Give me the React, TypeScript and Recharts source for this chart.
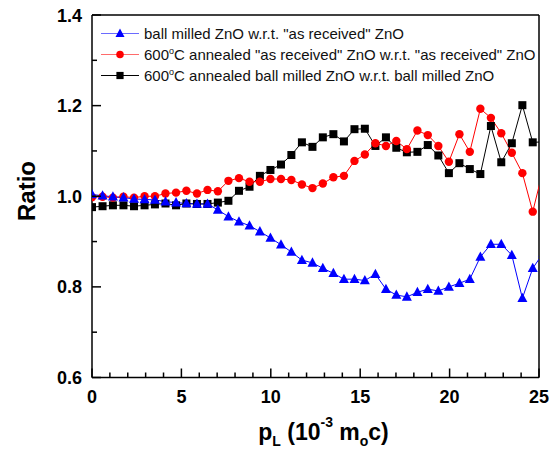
import { LineChart, Line, XAxis, YAxis, ReferenceLine, Legend, Label } from "recharts";

// p_L in units of 10^-3 m0c (0.15 keV steps)
const pL = [
  0, 0.59, 1.17, 1.76, 2.35, 2.94, 3.52, 4.11, 4.7, 5.28, 5.87, 6.46, 7.04, 7.63, 8.22,
  8.81, 9.39, 9.98, 10.57, 11.15, 11.74, 12.33, 12.91, 13.5, 14.09, 14.68, 15.26, 15.85,
  16.44, 17.02, 17.61, 18.2, 18.78, 19.37, 19.96, 20.55, 21.13, 21.72, 22.31, 22.89,
  23.48, 24.07, 24.65, 25.24,
];

const ballMilled = [
  1.004, 1.001, 0.999, 0.997, 0.994, 0.993, 0.992, 0.988, 0.986, 0.984, 0.983, 0.983,
  0.97, 0.955, 0.944, 0.935, 0.922, 0.908, 0.893, 0.877, 0.859, 0.853, 0.841, 0.83,
  0.817, 0.817, 0.814, 0.828, 0.795, 0.782, 0.778, 0.788, 0.795, 0.791, 0.8, 0.808,
  0.817, 0.866, 0.894, 0.894, 0.87, 0.775, 0.841, 0.875,
];

const annealedReceived = [
  0.998, 0.999, 0.997, 0.999, 0.997, 1.0, 1.0, 1.006, 1.008, 1.012, 1.006, 1.014, 1.011,
  1.034, 1.04, 1.032, 1.032, 1.038, 1.038, 1.036, 1.026, 1.018, 1.028, 1.042, 1.045,
  1.078, 1.092, 1.117, 1.111, 1.122, 1.104, 1.145, 1.135, 1.111, 1.076, 1.137, 1.098,
  1.193, 1.173, 1.139, 1.096, 1.051, 0.966, 1.06,
];

const annealedMilled = [
  0.976, 0.978, 0.98, 0.98, 0.978, 0.98, 0.982, 0.984, 0.98, 0.984, 0.983, 0.983, 0.986,
  0.99, 1.012, 1.021, 1.045, 1.058, 1.07, 1.091, 1.119, 1.109, 1.13, 1.137, 1.121, 1.148,
  1.149, 1.111, 1.13, 1.107, 1.097, 1.098, 1.113, 1.09, 1.051, 1.073, 1.06, 1.049, 1.155,
  1.075, 1.117, 1.201, 1.119, 1.12,
];

const xTicks = Array.from({ length: 26 }, (_, i) => i);
const yTicks = [0.6, 0.7, 0.8, 0.9, 1.0, 1.1, 1.2, 1.3, 1.4];

const data = pL.map((x, i) => ({
  x,
  blue: ballMilled[i],
  red: annealedReceived[i],
  black: annealedMilled[i],
}));

const FONT = '"Liberation Sans", Arial, Helvetica, sans-serif';

const Triangle = ({ cx, cy, size = 10, color = "#0000ff" }: any) => (
  <path
    d={`M${cx},${cy - size * 0.55} L${cx + size / 2},${cy + size * 0.38} L${cx - size / 2},${cy + size * 0.38} Z`}
    fill={color}
  />
);

const Square = ({ cx, cy, size = 8, color = "#000" }: any) => (
  <rect x={cx - size / 2} y={cy - size / 2} width={size} height={size} fill={color} />
);

const Circle = ({ cx, cy, r = 4.2, color = "#ff0000" }: any) => (
  <circle cx={cx} cy={cy} r={r} fill={color} />
);

const series = [
  {
    key: "blue",
    color: "#0000ff",
    legendStroke: "#6b6bff",
    name: 'ball milled ZnO w.r.t. "as received" ZnO',
    deg: false,
    marker: (cx: number, cy: number, s = 1) => <Triangle cx={cx} cy={cy} size={10 * s} />,
  },
  {
    key: "red",
    color: "#ff0000",
    legendStroke: "#ff6b6b",
    name: 'annealed "as received" ZnO w.r.t. "as received" ZnO',
    deg: true,
    marker: (cx: number, cy: number, s = 1) => <Circle cx={cx} cy={cy} r={4.2 * s} />,
  },
  {
    key: "black",
    color: "#000000",
    legendStroke: "#000000",
    name: "annealed ball milled ZnO w.r.t. ball milled ZnO",
    deg: true,
    marker: (cx: number, cy: number, s = 1) => <Square cx={cx} cy={cy} size={8 * s} />,
  },
];

const XTick = ({ x, y, payload }: any) => {
  const v = payload.value;
  const major = v % 5 === 0;
  return (
    <g>
      <line x1={x} x2={x} y1={y} y2={y - (major ? 9 : 5)} stroke="#000" strokeWidth={1.5} />
      {major && (
        <text x={x} y={y + 25} textAnchor="middle" fontSize={18} fontWeight="bold" fontFamily={FONT} fill="#000">
          {v}
        </text>
      )}
    </g>
  );
};

const YTick = ({ x, y, payload }: any) => {
  const v = payload.value;
  const major = Math.round(v * 10) % 2 === 0;
  return (
    <g>
      <line x1={x} x2={x + (major ? 9 : 5)} y1={y} y2={y} stroke="#000" strokeWidth={1.5} />
      {major && (
        <text x={x - 10} y={y + 6.5} textAnchor="end" fontSize={18} fontWeight="bold" fontFamily={FONT} fill="#000">
          {v.toFixed(1)}
        </text>
      )}
    </g>
  );
};

const XTitle = ({ viewBox }: any) => {
  const cx = viewBox.x + viewBox.width / 2 + 8;
  const by = viewBox.y + 62;
  return (
    <text x={cx} y={by} textAnchor="middle" fontSize={23} fontWeight="bold" fontFamily={FONT} fill="#000">
      p<tspan dy={6} fontSize={14}>L</tspan>
      <tspan dy={-6}> (10</tspan>
      <tspan dy={-13} fontSize={14}>-3</tspan>
      <tspan dy={13}> m</tspan>
      <tspan dy={6} fontSize={14}>o</tspan>
      <tspan dy={-6}>c)</tspan>
    </text>
  );
};

const YTitle = () => (
  <text
    x={35}
    y={191}
    transform="rotate(-90, 35, 191)"
    textAnchor="middle"
    fontSize={24}
    fontWeight="bold"
    fontFamily={FONT}
    fill="#000"
  >
    Ratio
  </text>
);

const LegendBox = () => (
  <div style={{ fontFamily: FONT, fontSize: 15, color: "#111" }}>
    {series.map((s) => (
      <div key={s.key} style={{ display: "flex", alignItems: "center", height: 21.2 }}>
        <svg width={44} height={21} style={{ display: "block" }}>
          <line x1={1} x2={39} y1={10.5} y2={10.5} stroke={s.legendStroke} strokeWidth={1.2} />
          {s.marker(20, 10.5, 0.9)}
        </svg>
        <span style={{ whiteSpace: "nowrap" }}>
          {s.deg && (
            <>
              600<sup style={{ fontSize: 9, lineHeight: 0 }}>o</sup>C{" "}
            </>
          )}
          {s.name}
        </span>
      </div>
    ))}
  </div>
);

export default function App() {
  // draw black first, then red, then blue on top
  const drawOrder = [series[2], series[1], series[0]];
  return (
    <div style={{ position: "absolute", left: 0, top: 0, background: "#fff" }}>
      <LineChart width={557} height={450} data={data} margin={{ top: 15, right: 18, bottom: 0, left: 0 }}>
        <XAxis
          dataKey="x"
          type="number"
          domain={[0, 25]}
          allowDataOverflow
          ticks={xTicks}
          interval={0}
          height={72.5}
          tickSize={0}
          tickMargin={0}
          tick={<XTick />}
          axisLine={{ stroke: "#000", strokeWidth: 1.5 }}
          tickLine={false}
        >
          <Label content={<XTitle />} />
        </XAxis>
        <YAxis
          type="number"
          domain={[0.6, 1.4]}
          allowDataOverflow
          ticks={yTicks}
          interval={0}
          width={92}
          tickSize={0}
          tickMargin={0}
          tick={<YTick />}
          axisLine={{ stroke: "#000", strokeWidth: 1.5 }}
          tickLine={false}
        >
          <Label content={<YTitle />} />
        </YAxis>
        <ReferenceLine y={1.4} stroke="#000" strokeWidth={1.5} />
        <ReferenceLine x={25} stroke="#000" strokeWidth={1.5} />
        {drawOrder.map((s) => (
          <Line
            key={s.key}
            dataKey={s.key}
            stroke={s.color}
            strokeWidth={1}
            isAnimationActive={false}
            dot={(p: any) => <g key={`${s.key}-${p.index}`}>{s.marker(p.cx, p.cy)}</g>}
            activeDot={false}
          />
        ))}
        <Legend
          layout="vertical"
          verticalAlign="middle"
          align="center"
          wrapperStyle={{ left: 100, top: 22.5, width: 450 }}
          content={<LegendBox />}
        />
      </LineChart>
    </div>
  );
}
